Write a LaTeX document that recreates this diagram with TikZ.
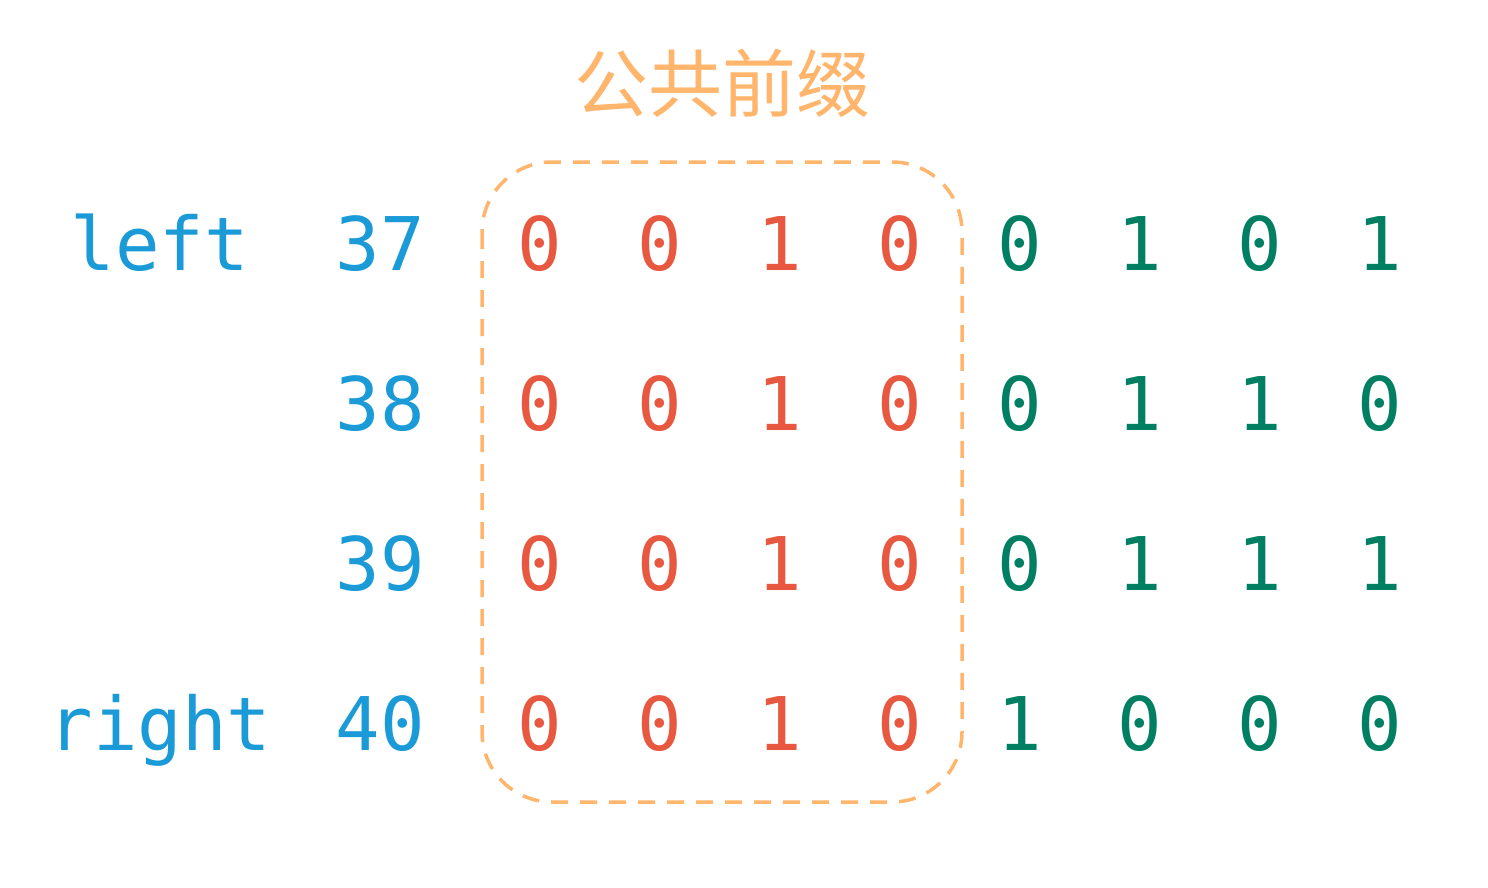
\documentclass[tikz,border=0pt]{standalone}
\usepackage{fontspec}
\setmonofont{DejaVu Sans Mono}
\newfontfamily\cjk{Noto Sans CJK SC}
\usepackage{tikz}
\usetikzlibrary{positioning}

\definecolor{labelblue}{HTML}{1A9AD6}
\definecolor{prefixred}{HTML}{E8573F}
\definecolor{restgreen}{HTML}{007F62}
\definecolor{boxorange}{HTML}{FFB56B}

\begin{document}
\begin{tikzpicture}[x = 1pt, y = -1pt,
    every node/.style = { inner sep = 0pt, anchor = base,
      font = \ttfamily\fontsize{74}{80}\selectfont },
    bluetext/.style = { text = labelblue },
    prefixbit/.style = { text = prefixred },
    restbit/.style = { text = restgreen },
    prefix box/.style = { draw = boxorange, line width = 3.5pt,
      dash pattern = on 17pt off 12pt, rounded corners = 70pt }]
  \useasboundingbox (0,0) rectangle (1488,888);

  \node [text = boxorange, anchor = center,
    font = \cjk\fontsize{74}{80}\selectfont] (title) at (722,83) {公共前缀};
  \draw [prefix box] (482,162) rectangle (962,802);

  \node [bluetext] (left)  at (160,270) {left};
  \node [bluetext] (right) at (160,750) {right};

  \foreach \r/\num/\bits in {1/37/{0,1,0,1}, 2/38/{0,1,1,0},
                             3/39/{0,1,1,1}, 4/40/{1,0,0,0}} {
    \node [bluetext] (num-\r) at (380,110+160*\r) {\num};
    % common prefix
    \foreach \b [count = \c] in {0,0,1,0}
      \node [prefixbit] (bit-\r-\c) at (420+120*\c,110+160*\r) {\b};
    % the rest
    \foreach \b [count = \c from 5] in \bits
      \node [restbit] (bit-\r-\c) at (420+120*\c,110+160*\r) {\b};
  }
\end{tikzpicture}
\end{document}
